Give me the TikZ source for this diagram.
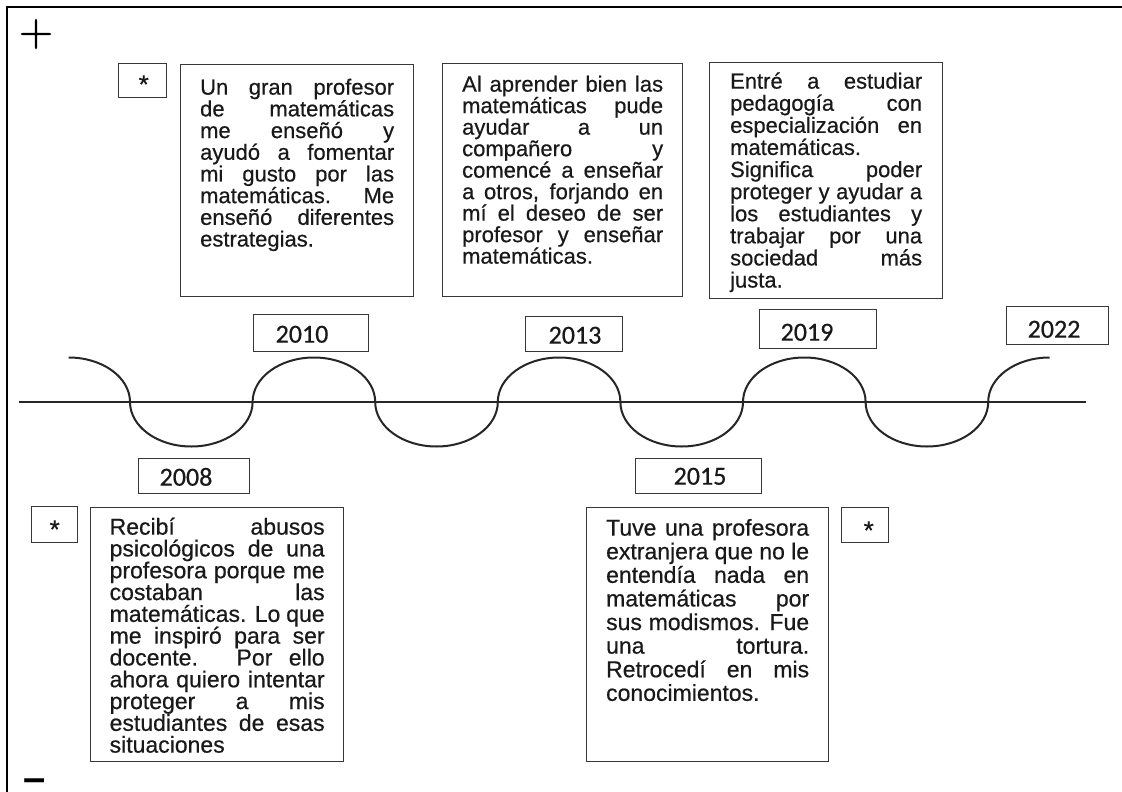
\documentclass[tikz,border=0pt]{standalone}
\usepackage{fontspec}
\setmainfont{Liberation Sans}[FakeBold=0.5]
\newfontfamily\yearfont{Carlito}[FakeBold=0.6]
\newfontfamily\lmr{Latin Modern Roman}[FakeBold=1.5]
\newfontfamily\dashfont{Liberation Sans Bold}
\definecolor{boxgray}{gray}{0.22}
\definecolor{inkc}{gray}{0.1}
\newcommand\JL[1]{\makebox[\linewidth][s]{#1}\par}
\newcommand\LL[1]{\makebox[\linewidth][l]{#1}\par}
\newcommand\FS{\rule{0pt}{18pt}}
\newcommand\bodyfont[2]{\fontsize{#1}{#2}\selectfont\lineskiplimit=-100pt\relax}
\tikzset{
  txtbox/.style={draw=boxgray, line width=1.3pt, anchor=north west, inner sep=0pt, text=inkc},
  yearbox/.style={draw=boxgray, line width=1.3pt, anchor=north west, inner sep=0pt, text=inkc,
    font=\yearfont\fontsize{26}{26}\selectfont},
  starbox/.style={draw=boxgray, line width=1.3pt, anchor=north west, inner sep=0pt, text=inkc,
    font=\fontsize{26}{26}\selectfont},
  frameline/.style={line width=2.6pt, black, line join=miter},
  axisline/.style={line width=2pt, black!85},
  waveline/.style={line width=2pt, black!85},
  sign/.style={inner sep=0pt, text=black}
}
\begin{document}
\begin{tikzpicture}[x=1pt,y=1pt]
\useasboundingbox (0,0) rectangle (1122,-792);
\fill[white] (0,0) rectangle (1122,-792);
% frame (top and left only)
\draw[frameline] (7,-792) -- (7,-7) -- (1122,-7);
% signs
\node[sign] (plus) at (36,-34) {\lmr\fontsize{47}{47}\selectfont +};
\node[sign, anchor=base west] (minus) at (23.5,-791) {\dashfont\fontsize{40}{40}\selectfont –};
% timeline axis
\coordinate (axL) at (19,-402);
\coordinate (axR) at (1086,-402);
\draw[axisline] (axL) -- (axR);
% wave
\draw[waveline] (68.7,-357.5)
  arc[start angle=90,end angle=0,x radius=61.3,y radius=44.5]
  arc[start angle=180,end angle=360,x radius=61.3,y radius=44.5]
  arc[start angle=180,end angle=0,x radius=61.3,y radius=44.5]
  arc[start angle=180,end angle=360,x radius=61.3,y radius=44.5]
  arc[start angle=180,end angle=0,x radius=61.3,y radius=44.5]
  arc[start angle=180,end angle=360,x radius=61.3,y radius=44.5]
  arc[start angle=180,end angle=0,x radius=61.3,y radius=44.5]
  arc[start angle=180,end angle=360,x radius=61.3,y radius=44.5]
  arc[start angle=180,end angle=90,x radius=61.3,y radius=44.5];
% star boxes
\node[starbox, text height=29.6pt, text depth=4.4pt] (s1) at (118,-63) {\makebox[48pt][l]{\hspace{20pt}*}};
\node[starbox, text height=31.6pt, text depth=4.4pt] (s2) at (31,-506) {\makebox[46pt][l]{\hspace{18pt}*}};
\node[starbox, text height=31.6pt, text depth=3.4pt] (s3) at (841,-507) {\makebox[47pt][l]{\hspace{22pt}*}};
% year boxes
\node[yearbox, text height=28pt, text depth=9pt] (y2010) at (253,-314) {\makebox[115pt][l]{\hspace{22pt}2010}};
\node[yearbox, text height=27pt, text depth=8pt] (y2013) at (525,-316) {\makebox[97pt][l]{\hspace{23pt}2013}};
\node[yearbox, text height=31pt, text depth=8pt] (y2019) at (759,-309) {\makebox[117pt][l]{\hspace{21pt}2019}};
\node[yearbox, text height=31pt, text depth=7pt] (y2022) at (1006,-306) {\makebox[102pt][l]{\hspace{21pt}2022}};
\node[yearbox, text height=27pt, text depth=8pt] (y2008) at (138,-458) {\makebox[111pt][l]{\hspace{21pt}2008}};
\node[yearbox, text height=26pt, text depth=9pt] (y2015) at (635,-458) {\makebox[126pt][l]{\hspace{38pt}2015}};
% description boxes
\node[txtbox, inner xsep=19.5pt, inner ysep=12pt] (d2010) at (180,-64) {\parbox[t][208pt][t]{194pt}{\bodyfont{22}{21.7}%
\JL{\FS Un gran profesor}
\JL{de matemáticas}
\JL{me enseñó y}
\JL{ayudó a fomentar}
\JL{mi gusto por las}
\JL{matemáticas. Me}
\JL{enseñó diferentes}
\LL{estrategias.}}};
\node[txtbox, inner xsep=19.5pt, inner ysep=10pt] (d2013) at (442,-63) {\parbox[t][213pt][t]{201pt}{\bodyfont{22}{21.5}%
\JL{\FS Al aprender bien las}
\JL{matemáticas pude}
\JL{ayudar a un}
\JL{compañero y}
\JL{comencé a enseñar}
\JL{a otros, forjando en}
\JL{mí el deseo de ser}
\JL{profesor y enseñar}
\LL{matemáticas.}}};
\node[txtbox, inner xsep=20.5pt, inner ysep=8pt] (d2019) at (709,-62) {\parbox[t][220pt][t]{192pt}{\bodyfont{22}{22.1}%
\JL{\FS Entré a estudiar}
\JL{pedagogía con}
\JL{especialización en}
\LL{matemáticas.}
\JL{Significa poder}
\JL{proteger y ayudar a}
\JL{los estudiantes y}
\JL{trabajar por una}
\JL{sociedad más}
\LL{justa.}}};
\node[txtbox, inner xsep=19pt, inner ysep=9pt] (d2008) at (90,-507) {\parbox[t][236pt][t]{215pt}{\bodyfont{23}{21.8}%
\JL{\FS Recibí abusos}
\JL{psicológicos de una}
\JL{profesora porque me}
\JL{costaban las}
\JL{matemáticas. Lo que}
\JL{me inspiró para ser}
\JL{docente. Por ello}
\JL{ahora quiero intentar}
\JL{proteger a mis}
\JL{estudiantes de esas}
\LL{situaciones}}};
\node[txtbox, inner xsep=19.5pt, inner ysep=10pt] (d2015) at (586,-507) {\parbox[t][234pt][t]{203pt}{\bodyfont{23}{23.6}%
\JL{\FS Tuve una profesora}
\JL{extranjera que no le}
\JL{entendía nada en}
\JL{matemáticas por}
\JL{sus modismos. Fue}
\JL{una tortura.}
\JL{Retrocedí en mis}
\LL{conocimientos.}}};
\end{tikzpicture}
\end{document}
